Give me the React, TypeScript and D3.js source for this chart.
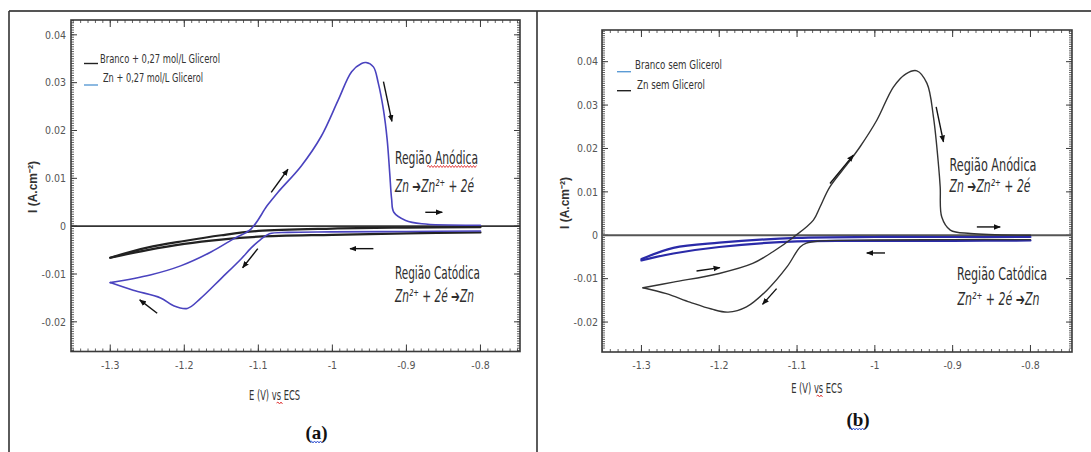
import React from "react";
import * as d3 from "d3";

// ---------- Data: panel (a) ----------
const aZnE = [-0.80, -0.90, -1.00, -1.06, -1.085, -1.097, -1.11, -1.123, -1.15, -1.178, -1.196, -1.215, -1.232, -1.269, -1.30,
  -1.246, -1.205, -1.164, -1.133, -1.11, -1.088, -1.074, -1.042, -1.015, -0.992, -0.974, -0.9606, -0.9546, -0.9446, -0.938, -0.931, -0.926, -0.9226, -0.92, -0.917, -0.901, -0.879, -0.80];
const aZnI = [-0.0010, -0.0011, -0.0012, -0.0013, -0.0016, -0.0028, -0.0046, -0.0068, -0.0109, -0.0151, -0.0172, -0.0166, -0.0150, -0.0134, -0.0118,
  -0.0102, -0.0083, -0.0054, -0.0026, -0.0006, 0.0043, 0.0070, 0.0126, 0.0188, 0.0264, 0.0323, 0.0340, 0.0342, 0.0333, 0.0299, 0.0243, 0.0181, 0.0112, 0.0057, 0.0029, 0.0012, 0.0005, 0.0002];
const aBrancoE = [-1.30, -1.25, -1.20, -1.15, -1.10, -1.00, -0.90, -0.80, -0.80, -0.90, -1.00, -1.10, -1.15, -1.20, -1.25, -1.30];
const aBrancoI = [-0.0066, -0.0045, -0.0031, -0.0019, -0.0010, -0.0005, -0.0003, -0.0002, -0.0013, -0.0015, -0.0018, -0.0022, -0.0028, -0.0037, -0.0050, -0.0066];

// ---------- Data: panel (b) ----------
const bZnE = [-0.80, -0.90, -1.00, -1.07, -1.088, -1.096, -1.113, -1.139, -1.165, -1.1886, -1.21, -1.2378, -1.268, -1.298,
  -1.259, -1.20, -1.157, -1.131, -1.105, -1.079, -1.0705, -1.058, -1.035, -1.019, -0.9975, -0.976, -0.96, -0.946, -0.933, -0.9247, -0.918, -0.916, -0.914, -0.903, -0.877, -0.80];
const bZnI = [-0.0010, -0.0010, -0.0011, -0.0013, -0.0018, -0.0027, -0.0073, -0.0127, -0.0165, -0.0177, -0.0170, -0.0154, -0.01346, -0.0121,
  -0.0108, -0.0088, -0.0065, -0.0038, -0.0005, 0.0035, 0.0065, 0.0111, 0.0165, 0.0204, 0.0265, 0.0342, 0.0372, 0.0379, 0.0350, 0.0273, 0.0158, 0.0111, 0.0042, 0.0012, 0.0004, 0.0000];
const bBrancoE = [-1.30, -1.259, -1.20, -1.10, -1.00, -0.90, -0.80, -0.80, -0.90, -1.00, -1.10, -1.20, -1.259, -1.30];
const bBrancoI = [-0.0055, -0.0029, -0.0017, -0.0006, -0.0004, -0.0004, -0.0004, -0.0012, -0.0013, -0.0013, -0.0014, -0.0027, -0.0042, -0.0058];

// ---------- Arrows (data coords: E0, I0, E1, I1) ----------
const aArrows = [
  [-1.0826, 0.00705, -1.06, 0.0119],
  [-0.931, 0.0302, -0.9196, 0.0219],
  [-0.8745, 0.0029, -0.8516, 0.0029],
  [-0.9446, -0.0047, -0.9762, -0.0047],
  [-1.1007, -0.0047, -1.1212, -0.0087],
  [-1.2366, -0.0182, -1.2602, -0.0154],
];
const bArrows = [
  [-1.0577, 0.01193, -1.0277, 0.01846],
  [-0.9212, 0.0296, -0.9118, 0.02153],
  [-0.8689, 0.00192, -0.8389, 0.00192],
  [-0.9869, -0.00408, -1.0104, -0.00408],
  [-1.2292, -0.00824, -1.1992, -0.00745],
  [-1.1263, -0.0123, -1.1443, -0.01592],
];

// ---------- Ticks / labels ----------
const xTicks = [-1.3, -1.2, -1.1, -1.0, -0.9, -0.8];
const xTickLabels = ["-1.3", "-1.2", "-1.1", "-1", "-0.9", "-0.8"];
const yTicks = [-0.02, -0.01, 0, 0.01, 0.02, 0.03, 0.04];
const yTickLabels = ["-0.02", "-0.01", "0", "0.01", "0.02", "0.03", "0.04"];
const legendA = ["Branco + 0,27 mol/L Glicerol", "Zn + 0,27 mol/L Glicerol"];
const legendB = ["Branco sem Glicerol", "Zn sem Glicerol"];
const eqAnodic = "Zn ➔Zn²⁺ + 2é";
const eqCathodic = "Zn²⁺ + 2é ➔Zn";

const FONT = "'Liberation Sans Narrow', 'DejaVu Sans Condensed', 'Liberation Sans', sans-serif";

function wavy(x0: number, x1: number, y: number) {
  let d = `M${x0},${y}`;
  let up = true;
  for (let x = x0 + 1.5; x <= x1; x += 1.5) {
    d += ` L${x},${y + (up ? -1 : 1)}`;
    up = !up;
  }
  return d;
}

type Curve = { E: number[]; I: number[]; color: string; width: number; split: number; share: boolean };

type PanelProps = {
  id: string;
  frame: { l: number; r: number; t: number; b: number };
  xDom: [number, number];
  yDom: [number, number];
  curves: Curve[];
  arrows: number[][];
  legend: { text: string; color: string; lineX: number; lineY: number; tx: number; ty: number; tw: number }[];
  yLabelX: number;
  yLabelY: number;
  xLabelX: number;
  xLabelY: number;
  yTickRight: number;
  texts: { anX: number; anY: number; anW: number; eq1X: number; eq1Y: number; eq1W: number; catX: number; catY: number; catW: number; eq2X: number; eq2Y: number; eq2W: number; sqX0: number; sqX1: number; sqY: number };
  tag: string;
  tagX: number;
  tagY: number;
  tagSq: [number, number, number];
  vsSq: [number, number, number];
  zeroColor: string;
};

const TXT = "#2e2e2e";

function Panel(p: PanelProps) {
  const { l, r, t, b } = p.frame;
  const x = d3.scaleLinear().domain(p.xDom).range([l, r]);
  const y = d3.scaleLinear().domain(p.yDom).range([b, t]);
  const line = d3
    .line<[number, number]>()
    .x((d) => x(d[0]))
    .y((d) => y(d[1]))
    .curve(d3.curveCatmullRom.alpha(0.5));

  const xMinor = d3.range(-1.35, -0.745, 0.01).filter((v) => v >= p.xDom[0] && v <= p.xDom[1]);
  const yMinor = d3.range(-0.026, 0.0475, 0.0005).filter((v) => v >= p.yDom[0] && v <= p.yDom[1]);
  const frameColor = "#3a3a3a";
  const tickColor = "#555";

  const segs: { pts: [number, number][]; color: string; width: number }[] = [];
  p.curves.forEach((c) => {
    const pts = c.E.map((e, k) => [e, c.I[k]] as [number, number]);
    segs.push({ pts: pts.slice(0, c.split + 1), color: c.color, width: c.width });
    segs.push({ pts: pts.slice(c.share ? c.split : c.split + 1), color: c.color, width: c.width });
  });

  return (
    <g>
      <defs>
        <marker id={`ah-${p.id}`} viewBox="0 0 10 10" refX="9" refY="5" markerWidth="5" markerHeight="5" orient="auto">
          <path d="M0,1 L10,5 L0,9 z" fill="#111" />
        </marker>
      </defs>
      {xMinor.map((v, i) => (
        <g key={`xm${i}`} stroke={frameColor} strokeWidth={0.8}>
          <line x1={x(v)} x2={x(v)} y1={b} y2={b - 3} />
          <line x1={x(v)} x2={x(v)} y1={t} y2={t + 3} />
        </g>
      ))}
      {yMinor.map((v, i) => (
        <g key={`ym${i}`} stroke={frameColor} strokeWidth={0.8}>
          <line x1={l} x2={l + 3} y1={y(v)} y2={y(v)} />
          <line x1={r} x2={r - 3} y1={y(v)} y2={y(v)} />
        </g>
      ))}
      {xTicks.map((v, i) => (
        <g key={`xM${i}`} stroke={frameColor} strokeWidth={1}>
          <line x1={x(v)} x2={x(v)} y1={b} y2={b - 7} />
          <line x1={x(v)} x2={x(v)} y1={t} y2={t + 7} />
        </g>
      ))}
      {yTicks.map((v, i) => (
        <g key={`yM${i}`} stroke={frameColor} strokeWidth={1}>
          <line x1={l} x2={l + 6} y1={y(v)} y2={y(v)} />
          <line x1={r} x2={r - 6} y1={y(v)} y2={y(v)} />
        </g>
      ))}
      <rect x={l} y={t} width={r - l} height={b - t} fill="none" stroke={frameColor} strokeWidth={1.6} />
      {xTicks.map((v, i) => (
        <text key={`xl${i}`} x={x(v)} y={369} textAnchor="middle" fontFamily={FONT} fontSize={10.5} fill={tickColor}>
          {xTickLabels[i]}
        </text>
      ))}
      {yTicks.map((v, i) => (
        <text key={`yl${i}`} x={p.yTickRight} y={y(v) + 3.8} textAnchor="end" fontFamily={FONT} fontSize={10.5} fill={tickColor}>
          {yTickLabels[i]}
        </text>
      ))}
      <line x1={l} x2={r} y1={y(0)} y2={y(0)} stroke={p.zeroColor} strokeWidth={1.8} />
      {segs.map((s, i) => (
        <path key={`c${i}`} d={line(s.pts) || ""} fill="none" stroke={s.color} strokeWidth={s.width} strokeLinejoin="round" strokeLinecap="round" />
      ))}
      {p.arrows.map((a, i) => (
        <line key={`a${i}`} x1={x(a[0])} y1={y(a[1])} x2={x(a[2])} y2={y(a[3])} stroke="#111" strokeWidth={1.4} markerEnd={`url(#ah-${p.id})`} />
      ))}
      {p.legend.map((lg, i) => (
        <g key={`lg${i}`}>
          <line x1={lg.lineX} x2={lg.lineX + 14} y1={lg.lineY} y2={lg.lineY} stroke={lg.color} strokeWidth={1.4} />
          <text x={lg.tx} y={lg.ty} fontFamily={FONT} fontSize={12} fill="#333" textLength={lg.tw} lengthAdjust="spacingAndGlyphs">
            {lg.text}
          </text>
        </g>
      ))}
      <text
        transform={`translate(${p.yLabelX},${p.yLabelY}) rotate(-90)`}
        textAnchor="middle"
        fontFamily="'Liberation Sans', Arial, sans-serif"
        fontWeight="bold"
        fontSize={12}
        fill="#333"
        dy="0.35em"
      >
        I (A.cm⁻²)
      </text>
      <text x={p.xLabelX} y={p.xLabelY} textAnchor="middle" fontFamily={FONT} fontSize={13.5} fill="#333" textLength={51} lengthAdjust="spacingAndGlyphs">
        E (V) vs ECS
      </text>
      <path d={wavy(p.vsSq[0], p.vsSq[1], p.vsSq[2])} stroke="#e03030" strokeWidth={0.9} fill="none" />
      <text x={p.texts.anX} y={p.texts.anY} fontFamily={FONT} fontSize={17} fill={TXT} textLength={p.texts.anW} lengthAdjust="spacingAndGlyphs">
        Região Anódica
      </text>
      <path d={wavy(p.texts.sqX0, p.texts.sqX1, p.texts.sqY)} stroke="#e03030" strokeWidth={0.9} fill="none" />
      <text x={p.texts.eq1X} y={p.texts.eq1Y} fontFamily={FONT} fontStyle="italic" fontSize={17} fill={TXT} textLength={p.texts.eq1W} lengthAdjust="spacingAndGlyphs">
        {eqAnodic}
      </text>
      <text x={p.texts.catX} y={p.texts.catY} fontFamily={FONT} fontSize={17} fill={TXT} textLength={p.texts.catW} lengthAdjust="spacingAndGlyphs">
        Região Catódica
      </text>
      <text x={p.texts.eq2X} y={p.texts.eq2Y} fontFamily={FONT} fontStyle="italic" fontSize={17} fill={TXT} textLength={p.texts.eq2W} lengthAdjust="spacingAndGlyphs">
        {eqCathodic}
      </text>
      <text x={p.tagX} y={p.tagY} textAnchor="middle" fontFamily="'Liberation Serif', 'Times New Roman', serif" fontWeight="bold" fontSize={19} fill="#111">
        {p.tag}
      </text>
      <path d={wavy(p.tagSq[0], p.tagSq[1], p.tagSq[2])} stroke="#3050d0" strokeWidth={0.9} fill="none" />
    </g>
  );
}

export default function App() {
  return (
    <svg width={1091} height={452} style={{ position: "absolute", left: 0, top: 0, background: "#fff" }}>
      <rect x={0} y={0} width={1091} height={452} fill="#fff" />
      <line x1={9} x2={1091} y1={11} y2={11} stroke="#555" strokeWidth={2} />
      <line x1={9} x2={9} y1={11} y2={452} stroke="#333" strokeWidth={1.6} />
      <line x1={537} x2={537} y1={11} y2={452} stroke="#333" strokeWidth={1.6} />
      <Panel
        id="a"
        frame={{ l: 71, r: 520, t: 20, b: 351.5 }}
        xDom={[-1.353, -0.7466]}
        yDom={[-0.0262, 0.0431]}
        curves={[
          { E: aBrancoE, I: aBrancoI, color: "#222", width: 2.2, split: 7, share: false },
          { E: aZnE, I: aZnI, color: "#4a43bf", width: 1.6, split: 14, share: true },
        ]}
        arrows={aArrows}
        legend={[
          { text: legendA[0], color: "#222", lineX: 84, lineY: 63.5, tx: 100, ty: 63, tw: 120 },
          { text: legendA[1], color: "#5b9bd5", lineX: 84, lineY: 85, tx: 103, ty: 82, tw: 100 },
        ]}
        yLabelX={33}
        yLabelY={187}
        xLabelX={274.5}
        xLabelY={400}
        yTickRight={66}
        texts={{ anX: 395, anY: 164, anW: 83, eq1X: 395, eq1Y: 191.5, eq1W: 79, catX: 395, catY: 279, catW: 85, eq2X: 395, eq2Y: 302, eq2W: 79, sqX0: 427, sqX1: 477, sqY: 166.5 }}
        tag="(a)"
        tagX={316.5}
        tagY={439}
        tagSq={[310, 323, 442]}
        vsSq={[276.5, 283, 403]}
        zeroColor="#333"
      />
      <Panel
        id="b"
        frame={{ l: 602, r: 1072, t: 30, b: 352 }}
        xDom={[-1.3507, -0.7466]}
        yDom={[-0.0269, 0.0473]}
        curves={[
          { E: bBrancoE, I: bBrancoI, color: "#2a2aa8", width: 2.2, split: 6, share: false },
          { E: bZnE, I: bZnI, color: "#333", width: 1.4, split: 13, share: true },
        ]}
        arrows={bArrows}
        legend={[
          { text: legendB[0], color: "#5b9bd5", lineX: 617, lineY: 71.7, tx: 635, ty: 69, tw: 87 },
          { text: legendB[1], color: "#222", lineX: 617, lineY: 90.7, tx: 637, ty: 89, tw: 68 },
        ]}
        yLabelX={565}
        yLabelY={203}
        xLabelX={816.7}
        xLabelY={393}
        yTickRight={598}
        texts={{ anX: 949.5, anY: 170.5, anW: 87, eq1X: 949.5, eq1Y: 192, eq1W: 81, catX: 957, catY: 280, catW: 90, eq2X: 957.5, eq2Y: 305, eq2W: 82 }}
        tag="(b)"
        tagX={858}
        tagY={426}
        tagSq={[849, 865, 429]}
        vsSq={[816.5, 823.5, 396]}
        zeroColor="#555"
      />
    </svg>
  );
}
